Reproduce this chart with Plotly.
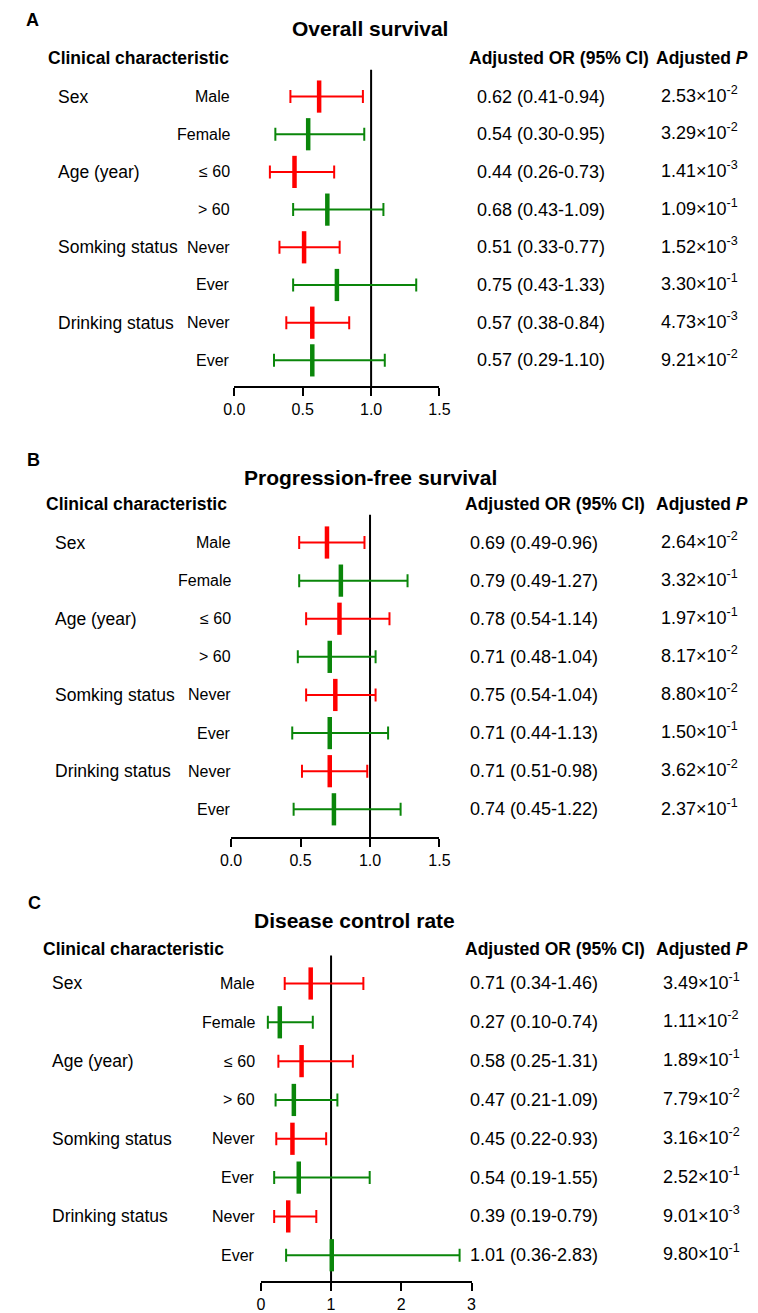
import plotly.graph_objects as go

W, H = 758, 1313
FONT = "Arial, 'Liberation Sans', sans-serif"

# ---------------- data ----------------
subgroups = ["Male", "Female", "≤ 60", "> 60", "Never", "Ever", "Never", "Ever"]
groups = ["Sex", "Age (year)", "Somking status", "Drinking status"]
group_rows = [0, 2, 4, 6]

os_or = [0.62, 0.54, 0.44, 0.68, 0.51, 0.75, 0.57, 0.57]
os_lo = [0.41, 0.30, 0.26, 0.43, 0.33, 0.43, 0.38, 0.29]
os_hi = [0.94, 0.95, 0.73, 1.09, 0.77, 1.33, 0.84, 1.10]
os_p_mant = ["2.53", "3.29", "1.41", "1.09", "1.52", "3.30", "4.73", "9.21"]
os_p_exp = ["-2", "-2", "-3", "-1", "-3", "-1", "-3", "-2"]

pfs_or = [0.69, 0.79, 0.78, 0.71, 0.75, 0.71, 0.71, 0.74]
pfs_lo = [0.49, 0.49, 0.54, 0.48, 0.54, 0.44, 0.51, 0.45]
pfs_hi = [0.96, 1.27, 1.14, 1.04, 1.04, 1.13, 0.98, 1.22]
pfs_p_mant = ["2.64", "3.32", "1.97", "8.17", "8.80", "1.50", "3.62", "2.37"]
pfs_p_exp = ["-2", "-1", "-1", "-2", "-2", "-1", "-2", "-1"]

dcr_or = [0.71, 0.27, 0.58, 0.47, 0.45, 0.54, 0.39, 1.01]
dcr_lo = [0.34, 0.10, 0.25, 0.21, 0.22, 0.19, 0.19, 0.36]
dcr_hi = [1.46, 0.74, 1.31, 1.09, 0.93, 1.55, 0.79, 2.83]
dcr_p_mant = ["3.49", "1.11", "1.89", "7.79", "3.16", "2.52", "9.01", "9.80"]
dcr_p_exp = ["-1", "-2", "-1", "-2", "-2", "-1", "-3", "-1"]

titles = ["Overall survival", "Progression-free survival", "Disease control rate"]
letters = ["A", "B", "C"]
x_ticks_ab = [0.0, 0.5, 1.0, 1.5]
x_ticks_c = [0, 1, 2, 3]

# ---------------- layout (pixel geometry) ----------------
panels = [
    dict(orv=os_or, lo=os_lo, hi=os_hi, pm=os_p_mant, pe=os_p_exp,
         xd=(230, 441.3), xr=[0, 1.5], ticks=x_ticks_ab, fmt="{:.1f}",
         yd=(70, 388), row0=97, step=37.86,
         letter=(14, 20), title=(370, 29), hdr_y=58, hdr_x=37,
         or_hdr_x=471, p_hdr_x=663, grp_x=47, sub_x=227, or_x=479, p_x=668),
    dict(orv=pfs_or, lo=pfs_lo, hi=pfs_hi, pm=pfs_p_mant, pe=pfs_p_exp,
         xd=(226.7, 441.3), xr=[0, 1.5], ticks=x_ticks_ab, fmt="{:.1f}",
         yd=(517, 841), row0=545, step=38.29,
         letter=(15, 462), title=(370, 480), hdr_y=506, hdr_x=35,
         or_hdr_x=467, p_hdr_x=663, grp_x=44, sub_x=228, or_x=472, p_x=668),
    dict(orv=dcr_or, lo=dcr_lo, hi=dcr_hi, pm=dcr_p_mant, pe=dcr_p_exp,
         xd=(257.3, 474.3), xr=[0, 3], ticks=x_ticks_c, fmt="{:d}",
         yd=(960, 1287), row0=988, step=39.0,
         letter=(16, 907), title=(354, 925), hdr_y=953, hdr_x=32,
         or_hdr_x=467, p_hdr_x=663, grp_x=41, sub_x=252, or_x=472, p_x=670),
]

RED = "#ff0000"
GREEN = "#0a860a"
SZ_TITLE, SZ_HDR, SZ_LETTER = 21, 17.5, 18
SZ_GROUP, SZ_SUB, SZ_VAL, SZ_TICK = 17.5, 16, 18, 16


def px(x):
    return x / W


def py(y):
    return 1 - y / H


fig = go.Figure()
annotations = []
shapes = []

for k, p in enumerate(panels):
    sfx = "" if k == 0 else str(k + 1)
    xa, ya = "x" + sfx, "y" + sfx
    n = len(p["orv"])
    rows = list(range(n))
    colors = [RED if i % 2 == 0 else GREEN for i in rows]
    for i in rows:
        fig.add_trace(go.Scatter(
            x=[p["orv"][i]], y=[i], mode="markers",
            xaxis=xa, yaxis=ya, showlegend=False, cliponaxis=False,
            marker=dict(symbol="line-ns", size=23, color=colors[i],
                        line=dict(width=4.5, color=colors[i])),
            error_x=dict(type="data", symmetric=False,
                         array=[p["hi"][i] - p["orv"][i]],
                         arrayminus=[p["orv"][i] - p["lo"][i]],
                         color=colors[i], thickness=2, width=6.5),
        ))

    top = (p["yd"][0] - p["row0"]) / p["step"]
    bot = (p["yd"][1] - p["row0"]) / p["step"]
    xaxis = dict(domain=[px(p["xd"][0]), px(p["xd"][1])], range=p["xr"],
                 anchor=ya, showline=True, linecolor="black", linewidth=2,
                 ticks="outside", ticklen=8, tickwidth=2, tickcolor="black",
                 tickvals=p["ticks"], ticktext=[p["fmt"].format(t) for t in p["ticks"]],
                 tickfont=dict(family=FONT, size=SZ_TICK, color="black"),
                 showgrid=False, zeroline=False, fixedrange=True)
    yaxis = dict(domain=[py(p["yd"][1]), py(p["yd"][0])], range=[bot, top],
                 anchor=xa, visible=False, showgrid=False, zeroline=False,
                 fixedrange=True)
    fig.update_layout(**{"xaxis" + sfx: xaxis, "yaxis" + sfx: yaxis})

    shapes.append(dict(type="line", xref=xa, x0=1, x1=1,
                       yref=ya + " domain", y0=0, y1=1,
                       line=dict(color="black", width=2), layer="below"))

    def ann(text, x, y, xanchor, size, yref="paper"):
        annotations.append(dict(text=text, x=px(x), y=(py(y) if yref == "paper" else y),
                                xref="paper", yref=yref, xanchor=xanchor, yanchor="middle",
                                showarrow=False, borderpad=0,
                                font=dict(family=FONT, size=size, color="black")))

    ann("<b>%s</b>" % letters[k], p["letter"][0], p["letter"][1], "left", SZ_LETTER)
    ann("<b>%s</b>" % titles[k], p["title"][0], p["title"][1], "center", SZ_TITLE)
    ann("<b>Clinical characteristic</b>", p["hdr_x"], p["hdr_y"], "left", SZ_HDR)
    ann("<b>Adjusted OR (95% CI)</b>", p["or_hdr_x"], p["hdr_y"], "left", SZ_HDR)
    ann("<b>Adjusted <i>P</i></b>", p["p_hdr_x"], p["hdr_y"], "left", SZ_HDR)

    for g, r in zip(groups, group_rows):
        ann(g, p["grp_x"], r, "left", SZ_GROUP, yref=ya)
    for i in rows:
        ann(subgroups[i], p["sub_x"], i, "right", SZ_SUB, yref=ya)
        or_txt = "%.2f (%.2f-%.2f)" % (p["orv"][i], p["lo"][i], p["hi"][i])
        ann(or_txt, p["or_x"], i, "left", SZ_VAL, yref=ya)
        p_txt = "%s×10<sup>%s</sup>" % (p["pm"][i], p["pe"][i])
        ann(p_txt, p["p_x"], i - 0.06, "left", SZ_VAL, yref=ya)

fig.update_layout(width=W, height=H, margin=dict(l=0, r=0, t=0, b=0),
                  paper_bgcolor="white", plot_bgcolor="white",
                  annotations=annotations, shapes=shapes, showlegend=False)

fig.write_html("out.html", post_script="document.body.style.margin='0';",
               config={"displayModeBar": False})
